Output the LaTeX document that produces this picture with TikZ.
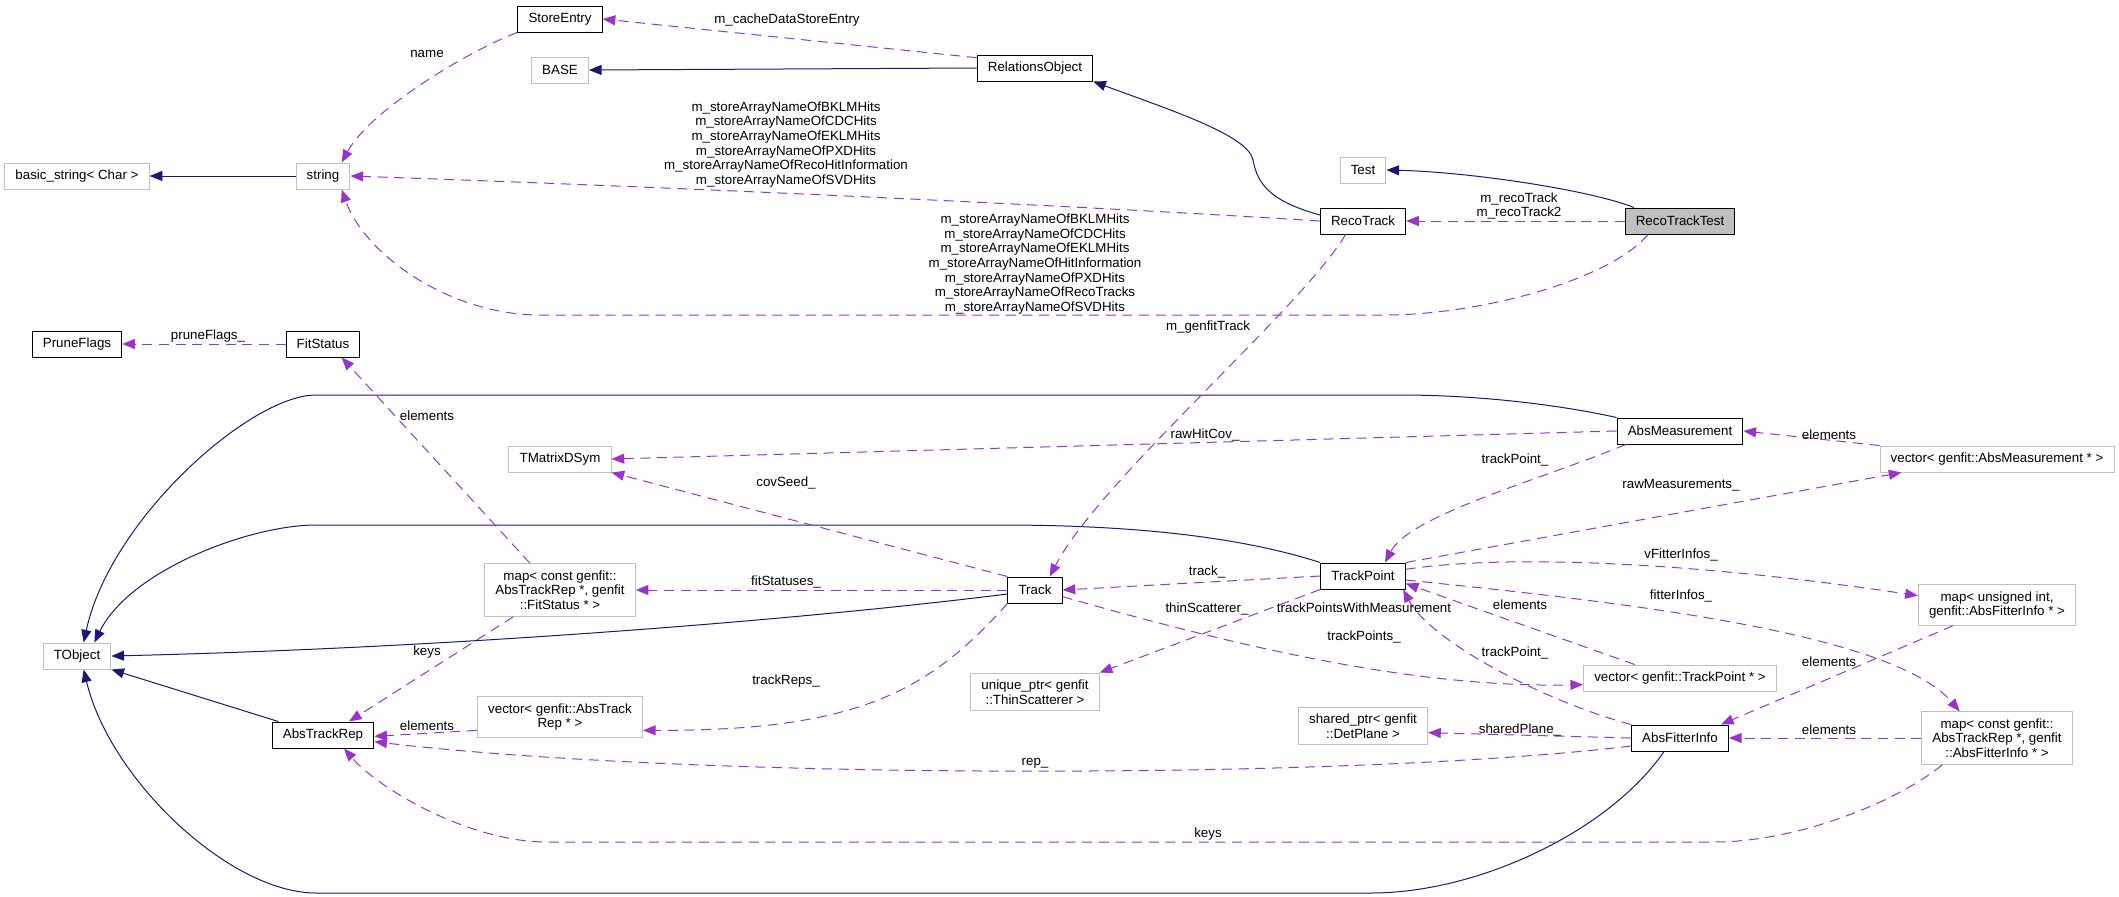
\documentclass[tikz,border=0pt]{standalone}
\usepackage{fontspec}
\setmainfont{Liberation Sans}
\usepackage{xcolor}
\usepackage{tikz}
\usetikzlibrary{arrows.meta}

\definecolor{inhblue}{HTML}{191970}
\definecolor{usepurple}{HTML}{9A32CD}
\definecolor{boxgray}{HTML}{BFBFBF}

\begin{document}
\begin{tikzpicture}[x=0.75pt, y=-0.75pt,
    every node/.style={font=\fontsize{10}{11}\selectfont},
    cls/.style={draw=black, line width=0.75pt, fill=white, inner xsep=8pt, inner ysep=5pt, minimum height=19.5pt, align=center},
    ext/.style={cls, draw=boxgray},
    lbl/.style={inner sep=0pt, align=center},
    inherit/.style={draw=inhblue, line width=0.75pt, -{Triangle[length=9.5pt,width=7.5pt]}},
    uses/.style={draw=usepurple, line width=0.75pt, dash pattern=on 7.5pt off 5pt, -{Triangle[length=9.5pt,width=7.5pt]}}]

    \useasboundingbox (0,0) rectangle (2119,896);

    \node[cls] (storeentry) at (560,19) {StoreEntry};
    \node[ext] (base) at (560,70) {BASE};
    \node[cls] (relobj) at (1035,68) {RelationsObject};
    \node[ext] (basicstr) at (77,176) {basic\_string< Char >};
    \node[ext] (string) at (323,176) {string};
    \node[ext] (test) at (1363,170) {Test};
    \node[cls] (recotrack) at (1363,221) {RecoTrack};
    \node[cls, fill=boxgray] (recotracktest) at (1680,221) {RecoTrackTest};
    \node[cls] (pruneflags) at (77,344) {PruneFlags};
    \node[cls] (fitstatus) at (323,344) {FitStatus};
    \node[ext] (tmatrix) at (560,459) {TMatrixDSym};
    \node[cls] (absmeas) at (1680,431) {AbsMeasurement};
    \node[ext] (vecmeas) at (1997,459) {vector< genfit::AbsMeasurement * >};
    \node[cls] (trackpoint) at (1363,576) {TrackPoint};
    \node[ext] (mapfit) at (560,590) {map< const genfit::\\AbsTrackRep *, genfit\\::FitStatus * >};
    \node[cls] (track) at (1035,590) {Track};
    \node[ext] (mapuint) at (1997,605) {map< unsigned int,\\genfit::AbsFitterInfo * >};
    \node[ext] (tobject) at (77,656) {TObject};
    \node[ext] (uniqueptr) at (1035,692) {unique\_ptr< genfit\\::ThinScatterer >};
    \node[ext] (vectp) at (1680,678) {vector< genfit::TrackPoint * >};
    \node[ext] (vecrep) at (560,717) {vector< genfit::AbsTrack\\Rep * >};
    \node[cls] (abstrackrep) at (323,735) {AbsTrackRep};
    \node[ext] (sharedptr) at (1363,726) {shared\_ptr< genfit\\::DetPlane >};
    \node[cls] (absfitter) at (1680,738) {AbsFitterInfo};
    \node[ext] (mapfitter) at (1997,738) {map< const genfit::\\AbsTrackRep *, genfit\\::AbsFitterInfo * >};

    % base classes
    \draw[inherit] (string.west) -- (basicstr.east);
    \draw[inherit] (relobj.west) -- (base.east);
    \draw[inherit] (recotrack.172) .. controls (1265,200) and (1257,180) .. (1253,160) .. controls (1248,135) and (1170,110) .. (relobj.south east);
    \draw[inherit] ([xshift=7pt]recotracktest.north west) .. controls (1590,190) and (1470,172) .. (test.east);
    \draw[inherit] (absmeas.north west) .. controls (1560,405) and (1480,395) .. (1400,395) -- (316,395) .. controls (250,395) and (110,520) .. ([xshift=5pt]tobject.north);
    \draw[inherit] (trackpoint.north west) .. controls (1250,540) and (1150,525) .. (1000,525) -- (316,525) .. controls (250,525) and (130,570) .. ([xshift=13pt]tobject.north);
    \draw[inherit] ([yshift=-3pt]track.west) .. controls (800,620) and (450,648) .. (tobject.east);
    \draw[inherit] ([xshift=5pt]abstrackrep.north west) -- (tobject.south east);
    \draw[inherit] ([xshift=-12pt]absfitter.south) .. controls (1610,830) and (1480,893) .. (1371,893) -- (316,893) .. controls (230,893) and (110,780) .. ([xshift=5pt]tobject.south);

    % members
    \draw[uses] (relobj.170) -- (storeentry.east);
    \draw[uses] (storeentry.south west) .. controls (470,50) and (370,110) .. ([xshift=14pt]string.north);
    \draw[uses] (recotrack.west) .. controls (1100,207) and (700,188) .. (string.east);
    \draw[uses] ([xshift=-24pt]recotracktest.south) .. controls (1610,280) and (1480,315) .. (1385,315) -- (540,315) .. controls (450,315) and (365,255) .. ([xshift=14pt]string.south);
    \draw[uses] (recotracktest.west) -- (recotrack.east);
    \draw[uses] ([xshift=-13pt]recotrack.south) .. controls (1300,310) and (1100,480) .. ([xshift=11pt]track.north);
    \draw[uses] (fitstatus.west) -- (pruneflags.east);
    \draw[uses] ([xshift=-22.5pt]mapfit.north) -- ([xshift=14pt]fitstatus.south);
    \draw[uses] (absmeas.west) -- (tmatrix.east);
    \draw[uses] (vecmeas.north west) -- (absmeas.east);
    \draw[uses] ([xshift=7pt]absmeas.south west) .. controls (1540,480) and (1410,515) .. ([xshift=16.5pt]trackpoint.north);
    \draw[uses] (trackpoint.north east) -- ([xshift=16.5pt]vecmeas.south west);
    \draw[uses] (track.north west) -- (tmatrix.south east);
    \draw[uses] (track.west) -- (mapfit.east);
    \draw[uses] (track.south west) .. controls (930,690) and (860,731) .. ([yshift=-10pt]vecrep.east);
    \draw[uses] ([xshift=-35pt]mapfit.south) -- ([xshift=19.5pt]abstrackrep.north);
    \draw[uses] ([yshift=-10pt]vecrep.west) -- ([yshift=-1pt]abstrackrep.east);
    \draw[uses] ([yshift=-6pt]absfitter.west) .. controls (1350,780) and (700,780) .. ([yshift=-5pt]abstrackrep.east);
    \draw[uses] (trackpoint.west) -- (track.east);
    \draw[uses] ([yshift=5pt]trackpoint.east) .. controls (1500,555) and (1680,560) .. ([yshift=7pt]mapuint.west);
    \draw[uses] ([yshift=-3pt]trackpoint.east) .. controls (1600,600) and (1890,630) .. ([xshift=-28pt]mapfitter.north);
    \draw[uses] (trackpoint.south west) -- (uniqueptr.north east);
    \draw[uses] ([yshift=-5pt]track.east) .. controls (1250,650) and (1420,688) .. ([yshift=-5pt]vectp.west);
    \draw[uses] ([xshift=-34pt]vectp.north) -- (trackpoint.-10);
    \draw[uses] (absfitter.north west) .. controls (1540,700) and (1430,640) .. ([xshift=-2pt]trackpoint.south east);
    \draw[uses] ([xshift=-33pt]mapuint.south) -- ([xshift=-6pt]absfitter.north east);
    \draw[uses] (absfitter.west) -- ([yshift=-5pt]sharedptr.east);
    \draw[uses] (mapfitter.west) -- (absfitter.east);
    \draw[uses] ([xshift=-41pt]mapfitter.south) .. controls (1900,800) and (1800,842) .. (1714,842) -- (547,842) .. controls (470,842) and (380,790) .. ([xshift=15.75pt]abstrackrep.south);

    % edge labels
    \node[lbl] (l-cache) at (787,20) {m\_cacheDataStoreEntry};
    \node[lbl] (l-name) at (427,54) {name};
    \node[lbl] (l-recostr) at (786,144.5) {m\_storeArrayNameOfBKLMHits\\m\_storeArrayNameOfCDCHits\\m\_storeArrayNameOfEKLMHits\\m\_storeArrayNameOfPXDHits\\m\_storeArrayNameOfRecoHitInformation\\m\_storeArrayNameOfSVDHits};
    \node[lbl] (l-teststr) at (1035,264) {m\_storeArrayNameOfBKLMHits\\m\_storeArrayNameOfCDCHits\\m\_storeArrayNameOfEKLMHits\\m\_storeArrayNameOfHitInformation\\m\_storeArrayNameOfPXDHits\\m\_storeArrayNameOfRecoTracks\\m\_storeArrayNameOfSVDHits};
    \node[lbl] (l-reco) at (1519,206) {m\_recoTrack\\m\_recoTrack2};
    \node[lbl] (l-genfit) at (1208,327) {m\_genfitTrack};
    \node[lbl] (l-prune) at (208,336) {pruneFlags\_};
    \node[lbl] (l-fitelem) at (427,416) {elements};
    \node[lbl] (l-rawhit) at (1205,435) {rawHitCov\_};
    \node[lbl] (l-measelem) at (1829,435) {elements};
    \node[lbl] (l-tpmeas) at (1515,460) {trackPoint\_};
    \node[lbl] (l-cov) at (786,483) {covSeed\_};
    \node[lbl] (l-rawmeas) at (1681,485) {rawMeasurements\_};
    \node[lbl] (l-vfit) at (1681,555) {vFitterInfos\_};
    \node[lbl] (l-track) at (1207,572) {track\_};
    \node[lbl] (l-fitst) at (786,582) {fitStatuses\_};
    \node[lbl] (l-fitinf) at (1681,596) {fitterInfos\_};
    \node[lbl] (l-tpelem) at (1520,605) {elements};
    \node[lbl] (l-tpwm) at (1364,608) {trackPointsWithMeasurement};
    \node[lbl] (l-tps) at (1364,637) {trackPoints\_};
    \node[lbl] (l-thin) at (1207,609) {thinScatterer\_};
    \node[lbl] (l-keys1) at (427,652) {keys};
    \node[lbl] (l-tpfit) at (1515,653) {trackPoint\_};
    \node[lbl] (l-uintelem) at (1829,662) {elements};
    \node[lbl] (l-reps) at (786,681) {trackReps\_};
    \node[lbl] (l-repelem) at (427,726) {elements};
    \node[lbl] (l-plane) at (1520,730) {sharedPlane\_};
    \node[lbl] (l-fitelem2) at (1829,730) {elements};
    \node[lbl] (l-rep) at (1035,763) {rep\_};
    \node[lbl] (l-keys2) at (1208,834) {keys};

\end{tikzpicture}
\end{document}
